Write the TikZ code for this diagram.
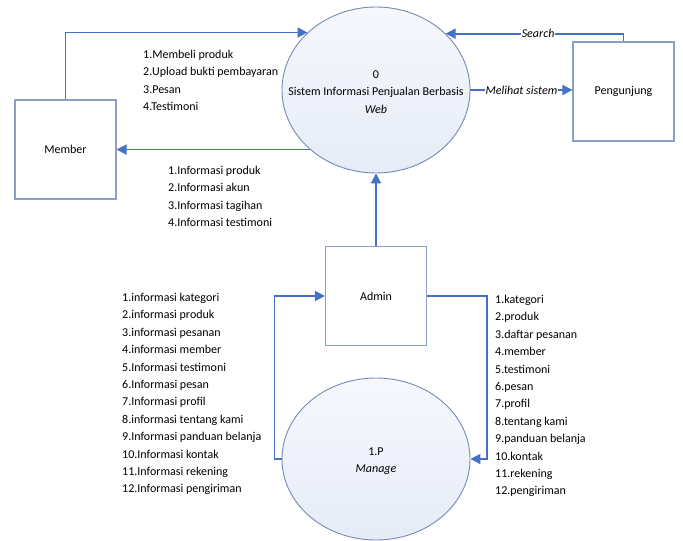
\documentclass[tikz,border=0pt]{standalone}
\usepackage{fontspec}
\setmainfont{Carlito}
\usetikzlibrary{shapes.geometric,arrows.meta}
\definecolor{flow}{RGB}{68,114,196}
\definecolor{boxline}{RGB}{140,158,198}
\definecolor{ellline}{RGB}{118,138,184}
\definecolor{elltop}{RGB}{246,248,253}
\definecolor{ellbot}{RGB}{230,235,246}
\tikzset{
  entity/.style={draw=boxline, line width=1.1pt, fill=white, minimum width=101pt, minimum height=99pt, inner sep=0pt, font=\fontsize{12}{14}\selectfont},
  proc/.style={ellipse, draw=ellline, line width=0.9pt, top color=elltop, bottom color=ellbot, minimum width=188pt, minimum height=166pt, inner sep=0pt},
  proctext/.style={inner sep=0pt, align=center, font=\fontsize{12}{17.4}\selectfont},
  flowline/.style={draw=flow, line width=1.8pt, -{Triangle[length=10pt,width=10pt]}},
  lbl/.style={inner sep=0pt, align=left, anchor=north west, font=\fontsize{12}{17.4}\selectfont},
  flowlbl/.style={fill=white, inner sep=1pt, font=\fontsize{12}{14}\selectfont\itshape}
}
\begin{document}
\begin{tikzpicture}[x=1pt,y=-1pt]
\useasboundingbox (0,0) rectangle (683,541);
% nodes
\node[proc] (sys) at (376,90) {};
\node[proctext] (systxt) at (376,92) {0\\Sistem Informasi Penjualan Berbasis\\\textit{Web}};
\node[proc, minimum height=162pt] (mg) at (376,459) {};
\node[proctext] (mgtxt) at (376,461) {1.P\\\textit{Manage}};
\node[entity] (member) at (65.5,149.5) {Member};
\node[entity] (peng) at (623.5,91.5) {Pengunjung};
\node[entity] (admin) at (376,296) {Admin};
% connectors
\draw[flowline] (member.north) |- (sys.140.5);
\draw[flowline] (sys.222.7) -- (sys.222.7 -| member.east);
\draw[flowline] (peng.north) |- (sys.39.5) node[flowlbl, pos=0.74] {Search};
\draw[flowline] (sys.east) -- (sys.east -| peng.west) node[flowlbl, midway] {Melihat sistem};
\draw[flowline] (admin.north) -- (sys.south);
\draw[flowline] (admin.east) -- ++(60,0) |- (mg.east);
\draw[flowline] (mg.west) -- ++(-7,0) |- (admin.west);
% labels
\node[lbl] (l1) at (143,50) {1.Membeli produk\\2.Upload bukti pembayaran\\3.Pesan\\4.Testimoni};
\node[lbl] (l2) at (168,166) {1.Informasi produk\\2.Informasi akun\\3.Informasi tagihan\\4.Informasi testimoni};
\node[lbl] (l3) at (122,293) {1.informasi kategori\\2.informasi produk\\3.informasi pesanan\\4.informasi member\\5.Informasi testimoni\\6.Informasi pesan\\7.Informasi profil\\8.informasi tentang kami\\9.Informasi panduan belanja\\10.Informasi kontak\\11.Informasi rekening\\12.Informasi pengiriman};
\node[lbl] (l4) at (495,295) {1.kategori\\2.produk\\3.daftar pesanan\\4.member\\5.testimoni\\6.pesan\\7.profil\\8.tentang kami\\9.panduan belanja\\10.kontak\\11.rekening\\12.pengiriman};
\end{tikzpicture}
\end{document}
